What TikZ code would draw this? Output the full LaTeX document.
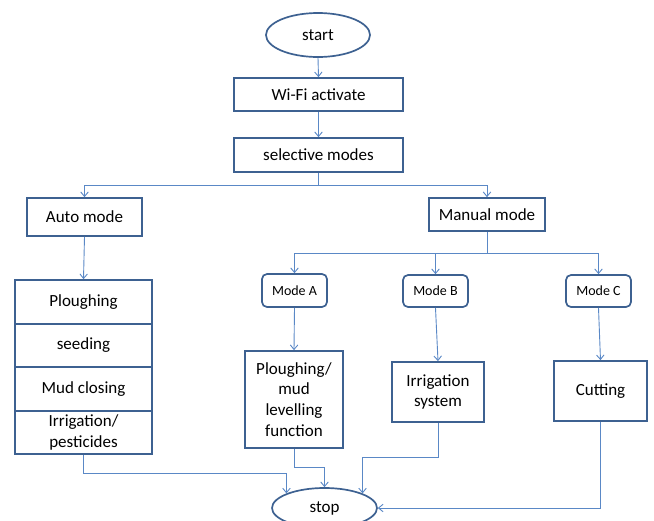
\documentclass[tikz,border=0pt]{standalone}
\usepackage{fontspec}
\setmainfont{Carlito}
\usetikzlibrary{arrows.meta,shapes.geometric}
\definecolor{boxc}{HTML}{3D6191}
\definecolor{linec}{HTML}{5A88C6}
\tikzset{
  box/.style={draw=boxc, line width=1.7pt, inner sep=0pt, align=center,
    font=\fontsize{17}{20.7}\selectfont},
  modebox/.style={draw=boxc, line width=1.7pt, rounded corners=5pt, inner sep=0pt,
    align=center, font=\fontsize{14}{16}\selectfont},
  term/.style={ellipse, draw=boxc, line width=1.7pt, inner sep=0pt,
    font=\fontsize{17}{20.7}\selectfont},
  conn/.style={draw=linec, line width=0.9pt, -{Straight Barb[length=4.5pt,width=7.5pt]}},
  plain/.style={draw=linec, line width=0.9pt}
}
\begin{document}
\begin{tikzpicture}[x=1pt,y=-1pt]
\useasboundingbox (0,0) rectangle (654,520);
\node[term, minimum width=104pt, minimum height=44pt] (start) at (318,35) {start};
\node[box, minimum width=169pt, minimum height=33pt] (wifi) at (318.5,94.5) {Wi-Fi activate};
\node[box, minimum width=169pt, minimum height=34pt] (sel) at (318.5,155) {selective modes};
\node[box, minimum width=115pt, minimum height=38pt] (auto) at (84.5,217) {Auto mode};
\node[box, minimum width=116pt, minimum height=33pt] (manual) at (487,214.5) {Manual mode};
\node[modebox, minimum width=65pt, minimum height=33pt] (modeA) at (294.5,290.5) {Mode A};
\node[modebox, minimum width=65pt, minimum height=32pt] (modeB) at (435.5,291) {Mode B};
\node[modebox, minimum width=65pt, minimum height=32pt] (modeC) at (598.5,291) {Mode C};
\node[box, minimum width=137pt, minimum height=44pt] (s1) at (83.5,302) {Ploughing};
\node[box, minimum width=137pt, minimum height=43pt] (s2) at (83.5,345.5) {seeding};
\node[box, minimum width=137pt, minimum height=44pt] (s3) at (83.5,389) {Mud closing};
\node[box, minimum width=137pt, minimum height=43pt] (s4) at (83.5,432.5) {Irrigation/\\pesticides};
\node[box, minimum width=98pt, minimum height=97pt] (plough) at (294,399.5) {Ploughing/\\mud\\levelling\\function};
\node[box, minimum width=92pt, minimum height=60pt] (irr) at (438,392) {Irrigation\\system};
\node[box, minimum width=93pt, minimum height=60pt] (cut) at (600.5,391) {Cutting};
\node[term, minimum width=105pt, minimum height=40pt] (stop) at (324.5,508) {stop};

\draw[conn] (start.south) -- (wifi.north);
\draw[conn] (wifi.south) -- (sel.north);
\draw[plain] (sel.south) -- ++(0,12.5) coordinate (br1);
\draw[conn] (br1) -| (auto.north);
\draw[conn] (br1) -| (manual.north);
\draw[conn] (auto.south) -- (s1.north);
\draw[plain] (manual.south) -- ++(0,22) coordinate (br2);
\draw[conn] (br2) -| (modeA.north);
\draw[conn] (br2) -| (modeB.north);
\draw[conn] (br2) -| (modeC.north);
\draw[conn] (modeA.south) -- (plough.north);
\draw[conn] (modeB.south) -- (irr.north);
\draw[conn] (modeC.south) -- (cut.north);
\draw[conn] (s4.south) -- ++(0,19) -| (stop.159);
\draw[conn] (plough.south) -- ++(0,19) -| (stop.north);
\draw[conn] (irr.south) -- ++(0,35) -| (stop.21);
\draw[conn] (cut.south) |- (stop.east);
\end{tikzpicture}
\end{document}
